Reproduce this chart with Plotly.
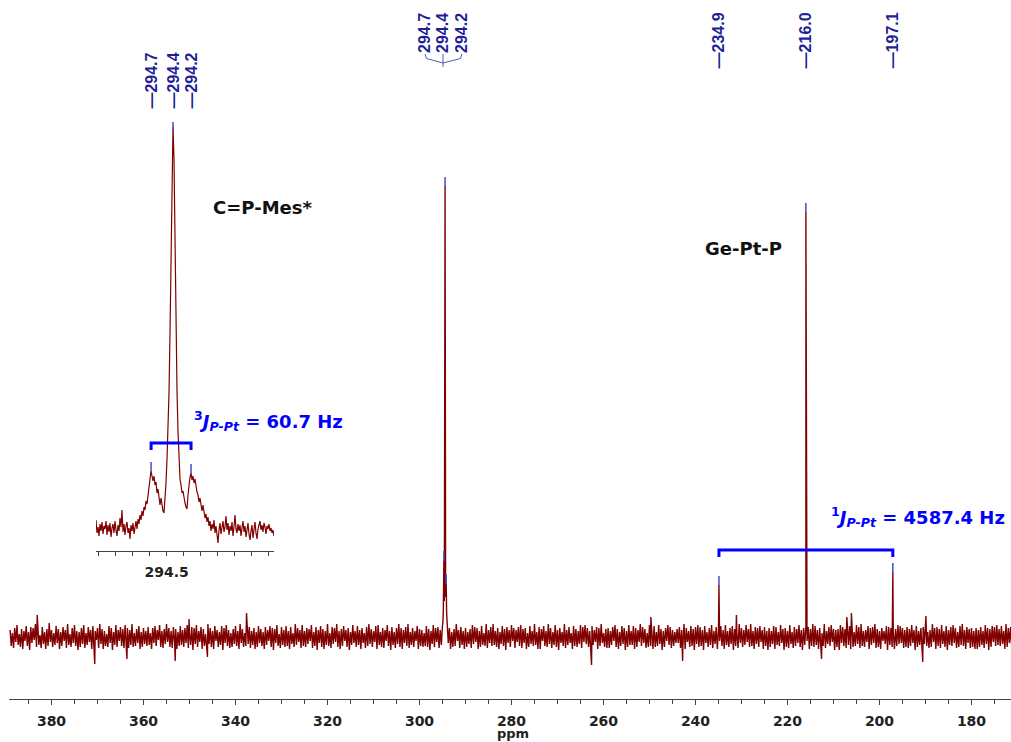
import numpy as np
import plotly.graph_objects as go

# ---------------- data ----------------
# main 31P spectrum: baseline noise sampled every 0.25 ppm from 389.0 ppm downfield
ppm_start = 389.0
ppm_step = -0.25
noise = [
    7, -9, 4, -11, 9, -5, 12, -8, 3, -10, 8, -12, 6, -4, 11, -9, 5, -13, 10, -6,
    9, -3, 13, -10, 6, -8, 2, -11, 10, -7, 5, -12, 8, -9, 14, -5, 7, -10, 4, -8,
    11, -6, 8, -12, 5, -9, 10, -4, 7, -11, 13, -8, 3, -10, 9, -6, 12, -9, 6, -13,
    5, -10, 9, -7, 12, -11, 4, -8, 10, -5, 7, -12, 11, -9, 6, -3, 9, -11, 13, -7,
    8, -12, 6, -9, 3, -10, 11, -6, 9, -13, 5, -8, 12, -10, 7, -4, 10, -9, 8, -11,
    12, -5, 9, -11, 7, -8, 13, -10, 4, -9, 8, -6, 11, -12, 5, -10, 9, -7, 6, -9,
    10, -8, 4, -12, 9, -6, 11, -9, 7, -3, 12, -10, 6, -11, 8, -7, 13, -5, 9, -10,
    6, -11, 10, -4, 8, -12, 5, -9, 11, -8, 7, -10, 9, -6, 12, -11, 4, -8, 10, -13,
    9, -7, 12, -10, 6, -5, 10, -12, 8, -9, 3, -11, 13, -7, 9, -10, 6, -12, 11, -4,
    7, -10, 5, -8, 11, -13, 9, -6, 12, -9, 7, -11, 4, -10, 8, -7, 11, -9, 6, -12,
    13, -6, 8, -10, 4, -9, 12, -7, 10, -11, 6, -8, 9, -12, 5, -10, 11, -6, 8, -9,
    5, -12, 10, -8, 7, -4, 11, -10, 9, -13, 8, -6, 12, -9, 3, -11, 10, -8, 7, -10,
    11, -9, 6, -12, 10, -7, 4, -10, 13, -8, 9, -5, 7, -11, 12, -9, 6, -10, 9, -7,
    8, -4, 12, -11, 5, -9, 10, -13, 7, -6, 11, -10, 8, -12, 6, -8, 13, -9, 4, -11,
    10, -7, 9, -5, 13, -10, 6, -12, 8, -9, 11, -4, 7, -10, 9, -13, 5, -8, 12, -6,
    6, -10, 11, -8, 7, -12, 9, -6, 4, -11, 10, -9, 13, -7, 8, -10, 6, -5, 11, -12,
    12, -8, 5, -10, 9, -11, 7, -4, 12, -9, 6, -13, 10, -8, 5, -11, 9, -7, 13, -10,
    9, -12, 7, -6, 10, -9, 13, -11, 5, -8, 9, -10, 6, -4, 11, -12, 8, -9, 7, -10,
    4, -9, 11, -10, 8, -13, 6, -7, 12, -10, 9, -5, 10, -11, 7, -8, 12, -6, 9, -11,
    11, -6, 9, -12, 5, -10, 8, -9, 13, -4, 7, -11, 10, -8, 6, -12, 9, -10, 5, -7,
    8, -11, 12, -7, 10, -5, 9, -12, 6, -10, 11, -8, 4, -9, 13, -11, 7, -6, 10, -9,
    13, -8, 6, -10, 9, -12, 5, -7, 11, -9, 8, -13, 10, -6, 7, -10, 12, -4, 9, -11,
    7, -5, 10, -9, 12, -11, 8, -6, 9, -12, 4, -10, 11, -7, 6, -9, 13, -8, 5, -12,
    10, -12, 8, -4, 11, -9, 6, -10, 13, -7, 9, -11, 5, -8, 12, -10, 7, -13, 9, -6,
    5, -9, 13, -11, 7, -8, 10, -6, 4, -12, 11, -9, 8, -10, 6, -7, 12, -11, 10, -5,
    12, -7, 9, -10, 6, -13, 11, -8, 7, -5, 10, -12, 9, -9, 13, -6, 4, -10, 8, -11,
    9, -11, 6, -8, 10, -4, 12, -10, 8, -12, 5, -9, 11, -7, 9, -13, 6, -10, 12, -8,
    6, -8, 11, -12, 9, -10, 7, -5, 13, -9, 10, -6, 8, -11, 4, -10, 12, -9, 7, -12,
    11, -10, 5, -9, 12, -7, 8, -13, 6, -10, 9, -4, 12, -8, 10, -11, 7, -9, 5, -6,
    8, -6, 10, -11, 7, -9, 13, -12, 9, -5, 6, -10, 11, -9, 8, -13, 10, -7, 12, -10,
    10, -9, 7, -13, 11, -6, 5, -10, 9, -8, 12, -11, 6, -7, 10, -12, 8, -4, 11, -9,
    7, -12, 12, -8, 6, -10, 9, -7, 11, -13, 8, -9, 4, -11, 13, -6, 9, -10, 7, -8,
    12, -5, 8, -10, 13, -9, 6, -12, 10, -7, 9, -10, 11, -5, 7, -12, 10, -9, 6, -13,
    9, -10, 6, -7, 11, -12, 10, -8, 5, -9, 12, -6, 8, -13, 9, -10, 6, -11, 12, -7,
    5, -11, 10, -9, 8, -6, 12, -10, 7, -13, 9, -8, 11, -4, 10, -12, 8, -9, 13, -10,
    11, -8, 7, -12, 9, -10, 4, -9, 13, -11, 6, -7, 10, -9, 12, -5, 8, -13, 7, -10,
    8, -13, 12, -6, 10, -9, 8, -11, 6, -8, 11, -12, 7, -10, 5, -9, 12, -7, 10, -11,
    13, -9, 6, -10, 7, -5, 11, -12, 9, -8, 10, -6, 13, -11, 8, -10, 6, -12, 9, -4,
    6, -7, 11, -13, 10, -8, 9, -10, 5, -12, 8, -9, 12, -7, 11, -6, 9, -11, 7, -10,
    10, -11, 8, -9, 12, -6, 7, -13, 11, -10, 6, -8, 9, -12, 10, -7, 13, -9, 5, -11,
    7, -10, 13, -5, 9, -12, 10, -9, 8, -11, 12, -7, 6, -10, 11, -13, 7, -8, 10, -9,
    12, -6, 9, -11, 5, -10, 11, -8, 13, -9, 7, -12, 10, -6, 8, -11, 9, -10, 6, -12,
    9, -12, 7, -10, 10, -8, 6, -11, 12, -7, 9, -13, 8, -10, 11, -5, 10, -9, 12, -8,
    8, -9, 11, -7, 6, -12, 13, -10, 9, -6, 10, -11, 7, -9, 12, -13, 5, -10, 9, -7,
]
# isolated noise spikes
spike_ppm = [383.1, 370.6, 363.6, 353.1, 350.1, 346.1, 337.6, 262.6, 249.7, 242.8,
             231.1, 212.6, 207.1, 206.1, 190.6, 189.9]
spike_int = [22, -27, -22, -24, 18, -20, 24, -28, 20, -24, 22, -22, 20, 24, -25, 21]
# multiplet at 294.4 ppm with its 195Pt satellites
cluster_ppm = [294.92, 294.82, 294.7, 294.6, 294.44, 294.32, 294.2, 294.1, 293.98]
cluster_int = [14, 26, 77, 36, 451, 40, 54, 24, 6]
# Ge-Pt-P signal and its 195Pt satellites
single_ppm = [234.9, 216.0, 197.1]
single_int = [52, 425, 65]
# peak picks (blue marks)
pick_ppm = [294.7, 294.44, 294.2, 234.9, 216.0, 197.1]
pick_int = [77, 451, 54, 52, 425, 65]
pick_labels_main = ["294.7", "294.4", "294.2"]
pick_labels_right = ["234.9", "216.0", "197.1"]

# inset (expansion around 294.5 ppm)
inset_ppm_start = 294.916
inset_ppm_end = 293.869
inset_int = [
    31, 18, 24, 15, 27, 20, 29, 17, 25, 22, 30, 16, 26, 19, 28, 14, 23, 27, 18, 30,
    21, 15, 26, 20, 33, 24, 41, 19, 27, 16, 25, 29, 18, 23, 12, 26, 20, 28, 17, 24,
    30, 22, 32, 27, 36, 31, 40, 35, 44, 41, 50, 47, 58, 63, 72, 80, 74, 70, 75, 66,
    69, 58, 62, 50, 46, 53, 44, 40, 38, 52, 68, 92, 118, 158, 218, 305, 392, 424, 392, 305,
    220, 160, 120, 94, 72, 66, 58, 60, 52, 48, 44, 42, 56, 66, 74, 78, 71, 75, 68, 72,
    63, 59, 56, 49, 53, 44, 40, 46, 36, 33, 37, 29, 34, 25, 30, 20, 27, 22, 31, 18,
    25, 14, 8, 21, 28, 17, 26, 30, 19, 24, 35, 21, 28, 16, 25, 20, 29, 15, 24, 36,
    22, 18, 27, 20, 26, 15, 23, 30, 19, 25, 14, 22, 28, 17, 11, 20, 26, 13, 24, 29,
    18, 12, 22, 27, 30, 21, 26, 19, 28, 24, 17, 25, 22, 27, 20, 23, 18, 21, 15,
]
inset_pick_ppm = [294.592, 294.463, 294.357]
inset_pick_int = [80, 420, 78]
inset_labels = ["294.7", "294.4", "294.2"]
inset_tickvals = [294.9, 294.8, 294.7, 294.6, 294.5, 294.4, 294.3, 294.2, 294.1, 294.0, 293.9]
inset_ticktext = ["", "", "", "", "294.5", "", "", "", "", "", ""]

J3_text = "60.7 Hz"
J1_text = "4587.4 Hz"

# ---------------- build spectrum ----------------
grid = ppm_start + ppm_step * np.arange(len(noise))
noise_arr = np.array(noise, dtype=float)
keep = (grid > max(cluster_ppm)) | (grid < min(cluster_ppm))
xs = np.concatenate([grid[keep], spike_ppm, cluster_ppm, single_ppm])
ys = np.concatenate([noise_arr[keep], spike_int, cluster_int, single_int])
order = np.argsort(-xs)
xs, ys = xs[order], ys[order]

inset_x = np.linspace(inset_ppm_start, inset_ppm_end, len(inset_int))

RED = "#800000"
BLUE = "#0000ff"
LBLUE = "#4b4bc8"
NAVY = "#1f1f99"

# page body margin is removed (see write_html below), so figure px == page px
W, H = 1011, 742
PLOT_X0, PLOT_X1 = 9, 1011      # page px of plot area
PLOT_Y0, PLOT_Y1 = 0, 699       # page px of plot area (top, bottom)
L, R = PLOT_X0, W - PLOT_X1
T, B = PLOT_Y0, H - PLOT_Y1
PW, PH = PLOT_X1 - PLOT_X0, PLOT_Y1 - PLOT_Y0


def px(xp):
    return (xp - PLOT_X0) / PW


def py(yp):
    return (PLOT_Y1 - yp) / PH


fig = go.Figure()
fig.add_trace(go.Scatter(x=xs, y=ys, mode="lines", line=dict(color=RED, width=1.4),
                         hoverinfo="skip", showlegend=False))
fig.add_trace(go.Scatter(x=pick_ppm, y=[v + 4 for v in pick_int], mode="markers",
                         marker=dict(symbol="line-ns", size=7, line=dict(color=LBLUE, width=1.5)),
                         showlegend=False, hoverinfo="skip"))
fig.add_trace(go.Scatter(x=inset_x, y=inset_int, mode="lines", xaxis="x2", yaxis="y2",
                         line=dict(color=RED, width=1.2), showlegend=False, hoverinfo="skip"))
fig.add_trace(go.Scatter(x=inset_pick_ppm, y=[v + 4 for v in inset_pick_int], mode="markers",
                         xaxis="x2", yaxis="y2",
                         marker=dict(symbol="line-ns", size=7, line=dict(color=LBLUE, width=1.5)),
                         showlegend=False, hoverinfo="skip"))

tickfont = dict(family="DejaVu Sans", size=14, color="#222222", weight="bold")
fig.update_layout(
    width=W, height=H,
    margin=dict(l=L, r=R, t=T, b=B, autoexpand=False),
    paper_bgcolor="white", plot_bgcolor="rgba(0,0,0,0)",
    xaxis=dict(range=[389.24, 171.41], dtick=20, tick0=0, ticks="outside", ticklen=5,
               tickwidth=1, tickcolor="#444", showline=True, linecolor="#444", linewidth=1,
               showgrid=False, zeroline=False, tickfont=tickfont, ticklabelstandoff=4,
               minor=dict(dtick=5, ticks="outside", ticklen=4, tickcolor="#444", showgrid=False)),
    yaxis=dict(range=[-62, 637], visible=False),
    xaxis2=dict(domain=[px(96), px(274)], range=[inset_ppm_start, inset_ppm_end], anchor="y2",
                tickvals=inset_tickvals, ticktext=inset_ticktext, ticks="outside", ticklen=4,
                tickcolor="#444", showline=True, linecolor="#444", linewidth=1, showgrid=False,
                zeroline=False, tickfont=tickfont, ticklabelstandoff=4),
    yaxis2=dict(domain=[py(551), py(120)], range=[0, 431], anchor="x2", visible=False),
)

ann = []
ann.append(dict(x=px(513), y=py(742), xref="paper", yref="paper", text="<b>ppm</b>",
                showarrow=False, font=dict(family="DejaVu Sans", size=13, color="#222"),
                yanchor="bottom", borderpad=0))
# peak labels
lab_font = dict(family="Liberation Sans", size=16, color=NAVY, weight="bold")
for p, t in zip(inset_pick_ppm, inset_labels):
    ann.append(dict(x=p, y=py(80.5), xref="x2", yref="paper", text="\u2014" + t, textangle=-90,
                    showarrow=False, font=lab_font, xanchor="center", yanchor="middle"))
for xp_, t in zip([425, 443, 462], pick_labels_main):
    ann.append(dict(x=px(xp_), y=py(33), xref="paper", yref="paper", text=t, textangle=-90,
                    showarrow=False, font=lab_font, xanchor="center", yanchor="middle"))
for p, t in zip(single_ppm, pick_labels_right):
    ann.append(dict(x=p, y=py(40.5), xref="x", yref="paper", text="\u2014" + t, textangle=-90,
                    showarrow=False, font=lab_font, xanchor="center", yanchor="middle"))
# compound labels
bold_blk = dict(family="DejaVu Sans", size=18, color="#111111")
ann.append(dict(x=px(262), y=py(207), xref="paper", yref="paper", text="<b>C=P-Mes*</b>",
                showarrow=False, font=bold_blk, xanchor="center", yanchor="middle"))
ann.append(dict(x=px(743), y=py(248), xref="paper", yref="paper", text="<b>Ge-Pt-P</b>",
                showarrow=False, font=bold_blk, xanchor="center", yanchor="middle"))
jfont = dict(family="DejaVu Sans", size=18, color=BLUE)
ann.append(dict(x=px(192), y=py(421), xref="paper", yref="paper",
                text="<b><sup>3</sup><i>J</i><sub><i>P-Pt</i></sub> = " + J3_text + "</b>",
                showarrow=False, font=jfont, xanchor="left", yanchor="middle"))
ann.append(dict(x=px(829), y=py(517), xref="paper", yref="paper",
                text="<b><sup>1</sup><i>J</i><sub><i>P-Pt</i></sub> = " + J1_text + "</b>",
                showarrow=False, font=jfont, xanchor="left", yanchor="middle"))
fig.update_layout(annotations=ann)

shapes = []
# coupling brackets
a, b = single_ppm[0], single_ppm[2]
shapes.append(dict(type="path", xref="x", yref="y",
                   path=f"M {a},80 L {a},87 L {b},87 L {b},80",
                   line=dict(color=BLUE, width=3)))
a2, b2 = inset_pick_ppm[0], inset_pick_ppm[2]
shapes.append(dict(type="path", xref="x2", yref="y2",
                   path=f"M {a2},101 L {a2},108 L {b2},108 L {b2},101",
                   line=dict(color=BLUE, width=3)))


# label connector for the 294 cluster
def seg(pts):
    return "M " + " L ".join(f"{px(xx)},{py(yy)}" for xx, yy in pts)


for pts in ([(425, 54), (426.5, 58.5), (443, 63)],
            [(462, 54), (460.5, 58.5), (443, 63)],
            [(443, 54), (443, 67)]):
    shapes.append(dict(type="path", xref="paper", yref="paper", path=seg(pts),
                       line=dict(color="#5a5ab0", width=1)))
fig.update_layout(shapes=shapes)

fig.write_html("out.html", config={"displayModeBar": False},
               post_script="document.body.style.margin='0';"
                           "document.body.style.overflow='hidden';")
